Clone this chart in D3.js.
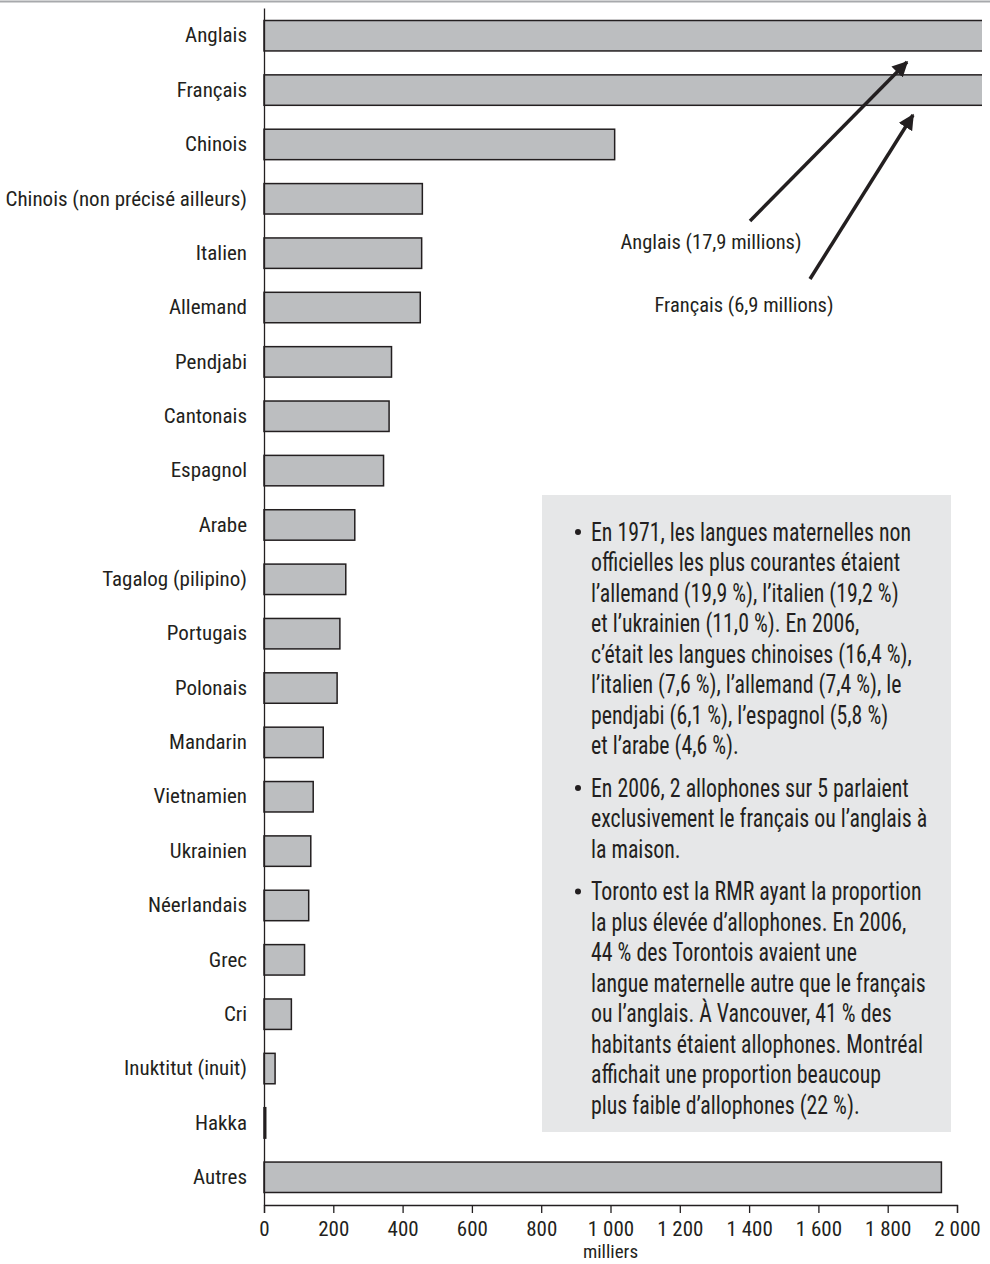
<!DOCTYPE html>
<html>
<head>
<meta charset="utf-8">
<script src="https://d3js.org/d3.v7.min.js"></script>
<style>
  body { margin: 0; background: #fff; }
  svg { display: block; }
  .lab { font-family: "Liberation Sans Narrow", "Roboto Condensed", "DejaVu Sans Condensed", sans-serif; fill: #231f20; }
</style>
</head>
<body>
<svg id="chart" width="990" height="1264"></svg>
<script>
// langues maternelles, en milliers (2006)
var languages = ["Anglais", "Français", "Chinois", "Chinois (non précisé ailleurs)", "Italien", "Allemand",
  "Pendjabi", "Cantonais", "Espagnol", "Arabe", "Tagalog (pilipino)", "Portugais", "Polonais", "Mandarin",
  "Vietnamien", "Ukrainien", "Néerlandais", "Grec", "Cri", "Inuktitut (inuit)", "Hakka", "Autres"];
var speakers = [17900, 6900, 1012, 457, 455, 451, 368, 361, 345, 262, 236, 219, 211, 171,
  142, 135, 129, 117, 79, 32, 5, 1955];
var xTicks = [0, 200, 400, 600, 800, 1000, 1200, 1400, 1600, 1800, 2000];
var notes = [
  ["En 1971, les langues maternelles non", "officielles les plus courantes étaient",
   "l’allemand (19,9 %), l’italien (19,2 %)", "et l’ukrainien (11,0 %). En 2006,",
   "c’était les langues chinoises (16,4 %),", "l’italien (7,6 %), l’allemand (7,4 %), le",
   "pendjabi (6,1 %), l’espagnol (5,8 %)", "et l’arabe (4,6 %)."],
  ["En 2006, 2 allophones sur 5 parlaient", "exclusivement le français ou l’anglais à", "la maison."],
  ["Toronto est la RMR ayant la proportion", "la plus élevée d’allophones. En 2006,",
   "44 % des Torontois avaient une", "langue maternelle autre que le français",
   "ou l’anglais. À Vancouver, 41 % des", "habitants étaient allophones. Montréal",
   "affichait une proportion beaucoup", "plus faible d’allophones (22 %)."]
];
var callouts = [
  {text: "Anglais (17,9 millions)", lang: "Anglais"},
  {text: "Français (6,9 millions)", lang: "Français"}
];

var data = languages.map((d, i) => ({lang: d, value: speakers[i]}));
var margin = {top: 8, right: 33, bottom: 59, left: 264};
var svg = d3.select("#chart");
var width = +svg.attr("width"), height = +svg.attr("height");

var fr = d3.formatLocale({decimal: ",", thousands: "\u00a0", grouping: [3], currency: ["", ""]});

var x = d3.scaleLinear().domain([0, 2000]).range([margin.left, 957]);
var y = d3.scaleBand().domain(languages)
  .range([margin.top, height - margin.bottom])
  .paddingInner(0.44).paddingOuter(0.23);

// top rule
svg.append("line").attr("x1", 0).attr("x2", width).attr("y1", 1.5).attr("y2", 1.5)
  .attr("stroke", "#a7a9ac").attr("stroke-width", 2);

svg.append("clipPath").attr("id", "clip")
  .append("rect").attr("x", 0).attr("y", 0).attr("width", 982).attr("height", height);

// text box
var box = svg.append("g");
box.append("rect").attr("x", 542).attr("y", 495).attr("width", 409).attr("height", 637).attr("fill", "#e6e7e8");
var lineH = 30.5, baseY = 541;
notes.forEach(function(par, pi) {
  par.forEach(function(line, li) {
    var yy = baseY + li * lineH;
    if (li === 0) {
      box.append("circle").attr("cx", 578).attr("cy", yy - 9).attr("r", 3).attr("fill", "#231f20");
    }
    box.append("text").attr("class", "lab").attr("x", 591).attr("y", yy)
      .style("font-size", "26px").attr("transform", "translate(591,0) scale(0.84,1) translate(-591,0)")
      .text(line);
  });
  baseY += par.length * lineH + 12;
});

// bars
svg.append("g").attr("clip-path", "url(#clip)")
  .selectAll("rect").data(data).join("rect")
  .attr("x", x(0))
  .attr("y", d => y(d.lang))
  .attr("width", d => x(d.value) - x(0))
  .attr("height", y.bandwidth())
  .attr("fill", "#bcbec0")
  .attr("stroke", "#231f20")
  .attr("stroke-width", 1.5);

// y axis
var yAxis = svg.append("g").attr("transform", `translate(${margin.left},0)`)
  .call(d3.axisLeft(y).tickSize(0).tickSizeOuter(0).tickPadding(17));
yAxis.select(".domain").attr("stroke", "#231f20").attr("stroke-width", 1.3);
yAxis.selectAll("text").attr("class", "lab").style("font-size", "21px").attr("font-family", null);

// x axis
var xAxis = svg.append("g").attr("transform", `translate(0,${height - margin.bottom})`)
  .call(d3.axisBottom(x).tickValues(xTicks).tickFormat(fr.format(",")).tickSize(8).tickSizeOuter(8).tickPadding(8));
xAxis.select(".domain").attr("stroke", "#231f20").attr("stroke-width", 1.3);
xAxis.selectAll(".tick line").attr("stroke", "#231f20").attr("stroke-width", 1.3);
xAxis.selectAll("text").attr("class", "lab").style("font-size", "21px").attr("font-family", null);

svg.append("text").attr("class", "lab").attr("x", x(1000)).attr("y", 1258)
  .attr("text-anchor", "middle").style("font-size", "19px").text("milliers");

// callouts
svg.append("defs").append("marker").attr("id", "arrow")
  .attr("viewBox", "0 0 10 10").attr("refX", 9).attr("refY", 5)
  .attr("markerWidth", 4.5).attr("markerHeight", 4.5).attr("orient", "auto")
  .append("path").attr("d", "M0,0 L10,5 L0,10 Z").attr("fill", "#231f20");

var cPos = [
  {tx: 711, ty: 249, x1: 750, y1: 221, x2: 907, y2: 62},
  {tx: 744, ty: 312, x1: 810, y1: 279, x2: 913, y2: 115}
];
callouts.forEach(function(c, i) {
  var p = cPos[i];
  svg.append("line").attr("x1", p.x1).attr("y1", p.y1).attr("x2", p.x2).attr("y2", p.y2)
    .attr("stroke", "#231f20").attr("stroke-width", 3.5).attr("marker-end", "url(#arrow)");
  svg.append("text").attr("class", "lab").attr("x", p.tx).attr("y", p.ty)
    .attr("text-anchor", "middle").style("font-size", "20.5px").text(c.text);
});
</script>
</body>
</html>
